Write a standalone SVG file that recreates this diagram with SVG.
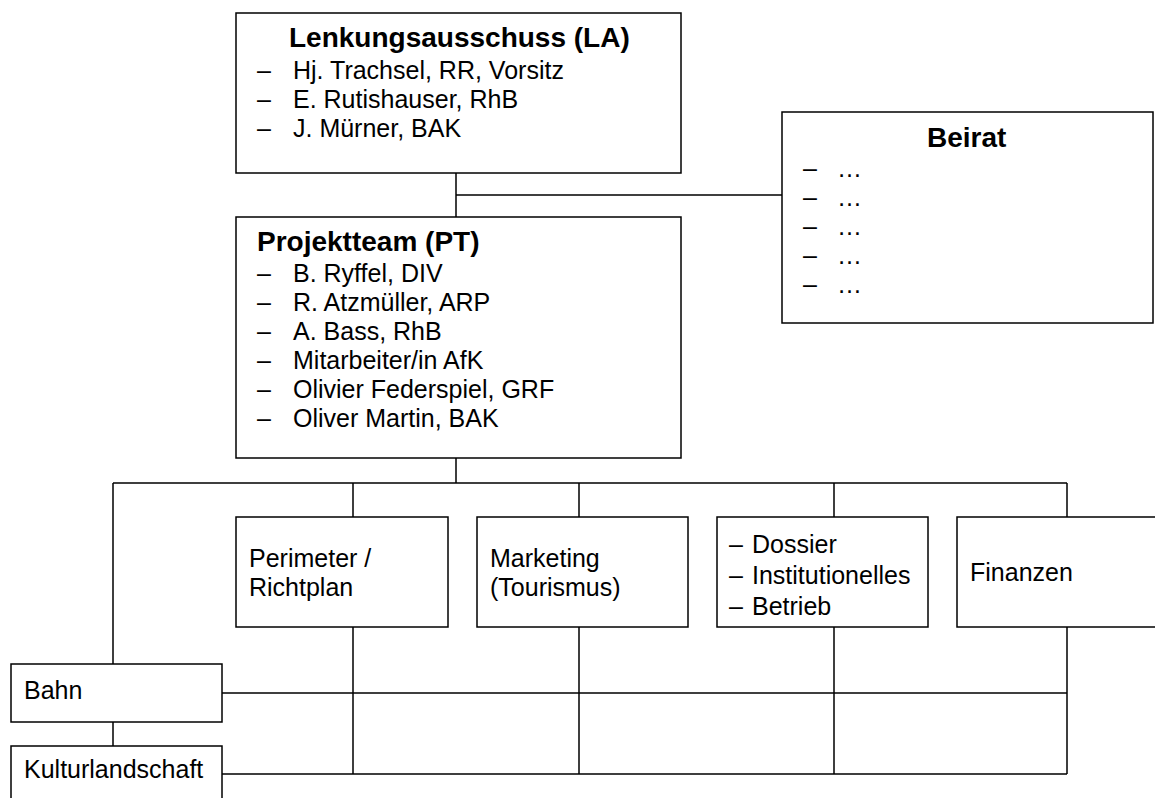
<svg xmlns="http://www.w3.org/2000/svg" width="1155" height="798" viewBox="0 0 1155 798">
<style>
.box{fill:#fff;stroke:#000;stroke-width:1.5}
.ln{fill:none;stroke:#000;stroke-width:1.5}
text{font-family:"Liberation Sans",Arial,sans-serif;fill:#000}
.t{font-size:28px;font-weight:bold}
.r{font-size:25px}
</style>
<rect width="1155" height="798" fill="#fff"/>
<g id="connectors">
<path class="ln" d="M456 173V217M456 195H782"/>
<path class="ln" d="M456 458V483M113 483H1067M353 483V517M579 483V517M834 483V517M1067 483V517"/>
<path class="ln" d="M113 483V664M113 722V746"/>
<path class="ln" d="M353 627V774M579 627V774M834 627V774M1067 627V774"/>
<path class="ln" d="M222 693H1067M222 774H1067"/>
</g>
<g id="la">
<rect class="box" x="236" y="13" width="445" height="160"/>
<text class="t" x="289" y="47">Lenkungsausschuss (LA)</text>
<text class="r" x="257" y="79">–</text><text class="r" x="293" y="79">Hj. Trachsel, RR, Vorsitz</text>
<text class="r" x="257" y="108">–</text><text class="r" x="293" y="108">E. Rutishauser, RhB</text>
<text class="r" x="257" y="137">–</text><text class="r" x="293" y="137">J. Mürner, BAK</text>
</g>
<g id="beirat">
<rect class="box" x="782" y="112" width="371" height="211"/>
<text class="t" x="927" y="147">Beirat</text>
<text class="r" x="803" y="177">–</text><text class="r" x="837" y="177">…</text>
<text class="r" x="803" y="206">–</text><text class="r" x="837" y="206">…</text>
<text class="r" x="803" y="235">–</text><text class="r" x="837" y="235">…</text>
<text class="r" x="803" y="264">–</text><text class="r" x="837" y="264">…</text>
<text class="r" x="803" y="293">–</text><text class="r" x="837" y="293">…</text>
</g>
<g id="pt">
<rect class="box" x="236" y="217" width="445" height="241"/>
<text class="t" x="257" y="251">Projektteam (PT)</text>
<text class="r" x="257" y="282">–</text><text class="r" x="293" y="282">B. Ryffel, DIV</text>
<text class="r" x="257" y="311">–</text><text class="r" x="293" y="311">R. Atzmüller, ARP</text>
<text class="r" x="257" y="340">–</text><text class="r" x="293" y="340">A. Bass, RhB</text>
<text class="r" x="257" y="369">–</text><text class="r" x="293" y="369">Mitarbeiter/in AfK</text>
<text class="r" x="257" y="398">–</text><text class="r" x="293" y="398">Olivier Federspiel, GRF</text>
<text class="r" x="257" y="427">–</text><text class="r" x="293" y="427">Oliver Martin, BAK</text>
</g>
<g id="perimeter">
<rect class="box" x="236" y="517" width="212" height="110"/>
<text class="r" x="249" y="567">Perimeter /</text>
<text class="r" x="249" y="596">Richtplan</text>
</g>
<g id="marketing">
<rect class="box" x="477" y="517" width="211" height="110"/>
<text class="r" x="490" y="567">Marketing</text>
<text class="r" x="490" y="596">(Tourismus)</text>
</g>
<g id="dossier">
<rect class="box" x="717" y="517" width="211" height="110"/>
<text class="r" x="729" y="553" font-size="20">–</text><text class="r" x="752" y="553">Dossier</text>
<text class="r" x="729" y="584" font-size="20">–</text><text class="r" x="752" y="584">Institutionelles</text>
<text class="r" x="729" y="615" font-size="20">–</text><text class="r" x="752" y="615">Betrieb</text>
</g>
<g id="finanzen">
<rect class="box" x="957" y="517" width="220" height="110"/>
<text class="r" x="970" y="581">Finanzen</text>
</g>
<g id="bahn">
<rect class="box" x="11" y="664" width="211" height="58"/>
<text class="r" x="24" y="699">Bahn</text>
</g>
<g id="kulturlandschaft">
<rect class="box" x="11" y="746" width="211" height="80"/>
<text class="r" x="24" y="778">Kulturlandschaft</text>
</g>
</svg>
